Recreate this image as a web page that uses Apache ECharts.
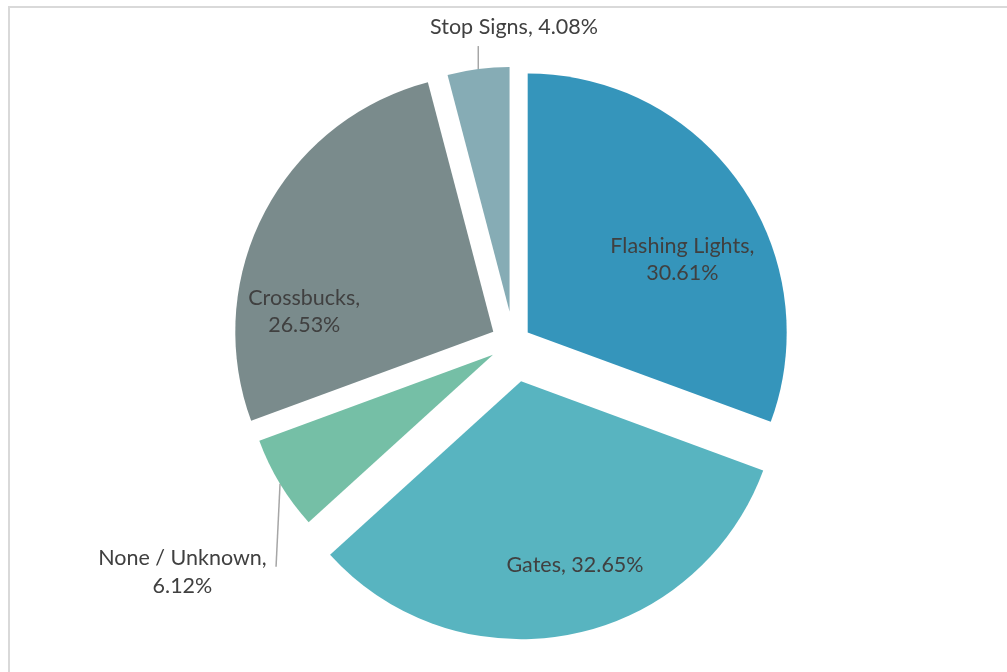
<!DOCTYPE html>
<html>
<head>
<meta charset="utf-8">
<script src="https://cdn.jsdelivr.net/npm/echarts@6/dist/echarts.min.js"></script>
<style>
  html, body { margin: 0; padding: 0; background: #ffffff; }
  #chart { width: 1007px; height: 672px; }
</style>
</head>
<body>
<div id="chart"></div>
<script>
// ---- data ----
const categories = ['Flashing Lights', 'Gates', 'None / Unknown', 'Crossbucks', 'Stop Signs'];
const percentValues = [30.61, 32.65, 6.12, 26.53, 4.08];

// ---- styles / layout (kept apart from the data) ----
const sliceColors = ['#3595BB', '#58B4C0', '#75BFA6', '#7A8B8C', '#86ACB5'];
const labelSeparators = ['\n', ' ', '\n', '\n', ' '];
const sliceOffsets = [17.3, 39.7, 24, 22.8, 31];
const sliceRadii = [259, 258, 249, 258, 244.5];
const labelPlacement = ['inside', 'inside', 'outside', 'inside', 'outside'];
const labelShift = [[46, 3], [28.7, 54], [-97.6, 88.2], [-72, 41], [38.7, -19.3]];
const leaderVector = [null, null, [-4, 83], null, [0, -23]];
const pieCenter = [513.5, 342.3];

const textColor = '#404040';
const fontFamily = 'Lato, "Open Sans", sans-serif';

const chart = echarts.init(document.getElementById('chart'), null, { renderer: 'canvas' });

const series = categories.map(function (_, s) {
  const outside = labelPlacement[s] === 'outside';
  const data = categories.map(function (name, i) {
    const visible = i === s;
    return {
      name: name,
      value: percentValues[i],
      selected: visible,
      itemStyle: { color: visible ? sliceColors[i] : 'rgba(0,0,0,0)' },
      label: { show: visible },
      labelLine: { show: visible && outside }
    };
  });
  return {
    type: 'pie',
    name: categories[s],
    center: pieCenter,
    radius: [0, sliceRadii[s]],
    startAngle: 90,
    clockwise: true,
    selectedMode: 'multiple',
    selectedOffset: sliceOffsets[s],
    avoidLabelOverlap: false,
    silent: true,
    animation: false,
    emphasis: { disabled: true, scale: false },
    select: { itemStyle: {} },
    label: {
      position: labelPlacement[s],
      color: textColor,
      fontFamily: fontFamily,
      fontSize: 21.5,
      lineHeight: 27.5,
      distanceToLabelLine: 0,
      formatter: function (p) {
        return p.name + ',' + labelSeparators[s] + p.value.toFixed(2) + '%';
      }
    },
    labelLine: {
      length: s === 4 ? 23 : 0,
      length2: 0,
      lineStyle: { color: '#A6A6A6', width: 1.5 }
    },
    labelLayout: function (p) {
      if (p.dataIndex !== s) return {};
      const out = {
        align: 'center',
        verticalAlign: 'middle',
        dx: labelShift[s][0],
        dy: labelShift[s][1]
      };
      if (outside && p.labelLinePoints) {
        const a = p.labelLinePoints[0];
        const v = leaderVector[s];
        out.labelLinePoints = [[a[0], a[1]], [a[0] + v[0], a[1] + v[1]]];
      }
      return out;
    },
    data: data
  };
});

chart.setOption({
  backgroundColor: '#ffffff',
  animation: false,
  graphic: [{
    type: 'rect',
    shape: { x: 9, y: 7, width: 1100, height: 700 },
    style: { fill: 'none', stroke: '#D9D9D9', lineWidth: 2 },
    silent: true,
    z: -10
  }],
  series: series
});
</script>
</body>
</html>
